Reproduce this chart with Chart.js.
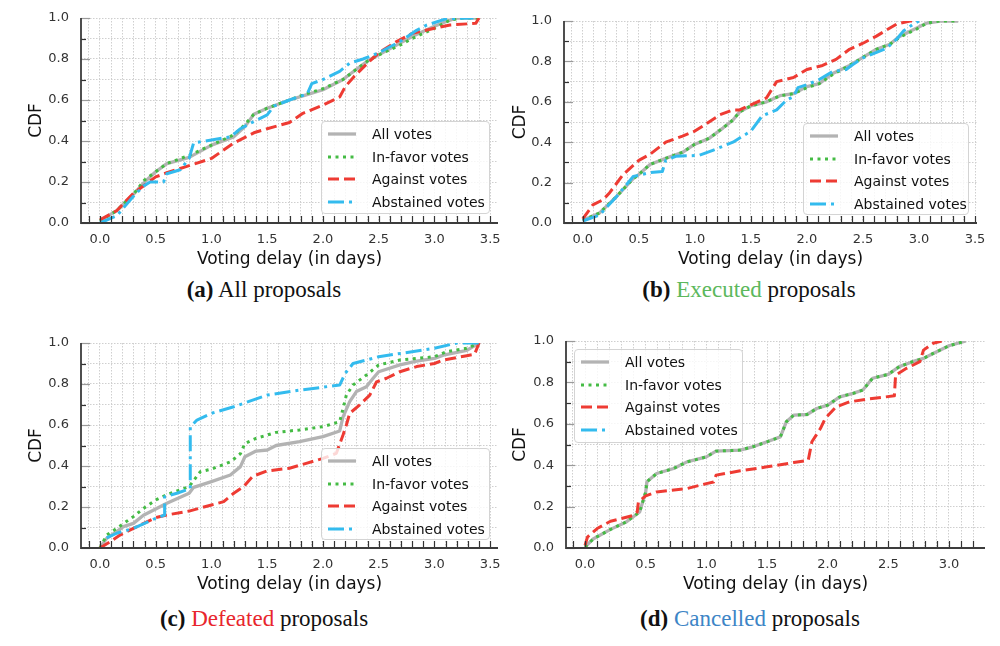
<!DOCTYPE html>
<html>
<head>
<meta charset="utf-8">
<script src="https://cdn.jsdelivr.net/npm/chart.js@4.4.0/dist/chart.umd.min.js"></script>
<style>
  body { margin: 0; background: #fff; }
  #page { position: relative; width: 1000px; height: 646px; overflow: hidden; font-family: "DejaVu Sans", sans-serif; }
  .panel { position: absolute; width: 500px; height: 270px; }
  .panel canvas { display: block; }
  .legend { position: absolute; box-sizing: border-box; border: 1px solid #d4d4d4; border-radius: 4px;
            background: rgba(255,255,255,0.8); padding-top: 1px; font-size: 14px; color: #111; }
  .legend .row { height: 22.5px; line-height: 22.5px; white-space: nowrap; display: flex; align-items: center; }
  .legend svg { margin-left: 6px; margin-right: 16px; flex: none; }
  .caption { position: absolute; width: 500px; text-align: center; font-family: "Liberation Serif", serif;
             font-size: 23px; line-height: 23px; color: #111; }
</style>
</head>
<body>
<div id="page">
  <div class="panel" style="left:0;top:0"><canvas id="ca" width="500" height="270"></canvas></div>
  <div class="panel" style="left:500px;top:0"><canvas id="cb" width="500" height="270"></canvas></div>
  <div class="panel" style="left:0;top:325px"><canvas id="cc" width="500" height="270"></canvas></div>
  <div class="panel" style="left:500px;top:325px"><canvas id="cd" width="500" height="270"></canvas></div>

  <div class="legend" id="la" style="left:321px;top:121px;width:169px;height:93px"></div>
  <div class="legend" id="lb" style="left:803px;top:123px;width:166px;height:92px"></div>
  <div class="legend" id="lc" style="left:321px;top:448px;width:169px;height:92px"></div>
  <div class="legend" id="ld" style="left:574px;top:349px;width:169px;height:94px"></div>

  <div class="caption" style="left:14px;top:278px"><b>(a)</b> All proposals</div>
  <div class="caption" style="left:499px;top:278px"><b>(b)</b> <span style="color:#5cb85c">Executed</span> proposals</div>
  <div class="caption" style="left:14px;top:607px"><b>(c)</b> <span style="color:#e8262d">Defeated</span> proposals</div>
  <div class="caption" style="left:500px;top:607px"><b>(d)</b> <span style="color:#3d85c6">Cancelled</span> proposals</div>
</div>

<script>
  // series names and look (same for all four panels)
  const seriesLabels = ['All votes', 'In-favor votes', 'Against votes', 'Abstained votes'];
  const seriesColors = ['#b3b3b3', '#44bb44', '#ee3b33', '#33bbee'];
  const seriesWidths = [3.3, 3, 3, 3];
  const seriesDashes = [[], [3, 4.5], [11, 5], [16, 5, 3, 5]];

  // CDF points [delay in days, cdf]

  // (a) all proposals
  const allAll = [[0,0.01],[0.15,0.06],[0.3,0.14],[0.4,0.2],[0.5,0.25],[0.6,0.29],[0.8,0.32],[1.0,0.38],[1.2,0.42],[1.3,0.47],[1.38,0.53],[1.5,0.56],[1.7,0.6],[1.85,0.625],[2.0,0.65],[2.18,0.70],[2.3,0.75],[2.4,0.79],[2.5,0.82],[2.7,0.88],[2.8,0.91],[3.0,0.96],[3.14,0.99],[3.2,1.0],[3.4,1.0]];
  const allFavor = [[0,0.01],[0.15,0.06],[0.3,0.14],[0.4,0.21],[0.5,0.25],[0.6,0.29],[0.8,0.33],[1.0,0.38],[1.2,0.43],[1.3,0.48],[1.38,0.53],[1.5,0.56],[1.7,0.6],[1.85,0.63],[2.0,0.655],[2.18,0.70],[2.3,0.75],[2.4,0.79],[2.5,0.82],[2.7,0.87],[2.8,0.9],[3.0,0.95],[3.14,0.99],[3.25,1.0],[3.4,1.0]];
  const allAgainst = [[0,0.015],[0.15,0.06],[0.3,0.145],[0.5,0.225],[0.6,0.245],[0.8,0.28],[1.0,0.315],[1.2,0.39],[1.38,0.44],[1.5,0.46],[1.7,0.49],[1.82,0.535],[2.0,0.575],[2.15,0.615],[2.2,0.665],[2.28,0.715],[2.4,0.78],[2.5,0.83],[2.66,0.885],[2.8,0.925],[3.0,0.95],[3.14,0.966],[3.37,0.974],[3.4,1.0]];
  const allAbstain = [[0,0.0],[0.15,0.035],[0.3,0.13],[0.39,0.18],[0.45,0.2],[0.57,0.2],[0.6,0.24],[0.72,0.26],[0.8,0.315],[0.84,0.39],[1.0,0.405],[1.17,0.42],[1.26,0.46],[1.38,0.495],[1.5,0.527],[1.56,0.57],[1.7,0.6],[1.86,0.63],[1.9,0.68],[2.0,0.70],[2.15,0.74],[2.24,0.78],[2.36,0.8],[2.5,0.83],[2.69,0.885],[2.84,0.94],[2.93,0.965],[3.11,0.997],[3.35,1.0]];

  // (b) executed proposals
  const exeAll = [[0,0.013],[0.15,0.05],[0.3,0.13],[0.45,0.22],[0.5,0.24],[0.6,0.29],[0.74,0.32],[0.89,0.35],[1.0,0.39],[1.13,0.42],[1.25,0.47],[1.34,0.51],[1.4,0.55],[1.5,0.58],[1.64,0.60],[1.76,0.63],[1.88,0.64],[2.0,0.675],[2.11,0.69],[2.23,0.74],[2.38,0.78],[2.5,0.82],[2.62,0.86],[2.74,0.885],[2.83,0.925],[2.98,0.965],[3.07,0.99],[3.19,1.0],[3.35,1.0]];
  const exeFavor = [[0,0.013],[0.15,0.05],[0.3,0.13],[0.45,0.22],[0.5,0.24],[0.6,0.29],[0.74,0.32],[0.89,0.35],[1.0,0.39],[1.13,0.42],[1.25,0.47],[1.34,0.51],[1.4,0.55],[1.5,0.58],[1.64,0.60],[1.76,0.63],[1.88,0.64],[2.0,0.67],[2.11,0.69],[2.23,0.735],[2.38,0.78],[2.5,0.82],[2.62,0.86],[2.74,0.885],[2.83,0.92],[2.98,0.96],[3.07,0.99],[3.19,1.0],[3.35,1.0]];
  const exeAgainst = [[0,0.02],[0.09,0.09],[0.18,0.115],[0.24,0.15],[0.36,0.24],[0.5,0.31],[0.6,0.34],[0.74,0.40],[0.89,0.43],[1.0,0.455],[1.1,0.49],[1.22,0.535],[1.34,0.56],[1.4,0.56],[1.5,0.585],[1.64,0.62],[1.73,0.70],[1.88,0.72],[2.0,0.76],[2.14,0.78],[2.26,0.81],[2.38,0.86],[2.5,0.89],[2.62,0.925],[2.8,0.985],[2.92,1.0],[3.0,1.0]];
  const exeAbstain = [[0,0.01],[0.15,0.04],[0.3,0.13],[0.45,0.23],[0.6,0.25],[0.71,0.255],[0.74,0.31],[0.83,0.33],[1.04,0.335],[1.16,0.36],[1.34,0.40],[1.5,0.455],[1.6,0.53],[1.73,0.56],[1.82,0.61],[1.88,0.625],[1.92,0.67],[2.0,0.685],[2.11,0.71],[2.23,0.75],[2.35,0.76],[2.41,0.785],[2.5,0.817],[2.71,0.865],[2.8,0.91],[2.86,0.95],[2.95,0.985],[3.0,1.0]];

  // (c) defeated proposals
  const defAll = [[0,0],[0.06,0.047],[0.15,0.08],[0.21,0.104],[0.3,0.12],[0.39,0.16],[0.5,0.19],[0.6,0.218],[0.69,0.24],[0.8,0.267],[0.84,0.296],[1.0,0.324],[1.17,0.356],[1.26,0.397],[1.3,0.445],[1.4,0.473],[1.5,0.478],[1.58,0.5],[1.79,0.519],[2.0,0.543],[2.15,0.571],[2.18,0.64],[2.24,0.714],[2.3,0.763],[2.39,0.787],[2.45,0.828],[2.5,0.86],[2.69,0.893],[2.84,0.912],[3.0,0.925],[3.08,0.941],[3.29,0.964],[3.4,1.0]];
  const defFavor = [[0,0],[0.06,0.063],[0.15,0.096],[0.3,0.153],[0.39,0.193],[0.5,0.234],[0.6,0.26],[0.8,0.3],[0.9,0.372],[1.0,0.385],[1.17,0.42],[1.26,0.46],[1.3,0.51],[1.4,0.535],[1.58,0.564],[1.79,0.576],[2.0,0.592],[2.15,0.616],[2.18,0.68],[2.21,0.746],[2.27,0.795],[2.39,0.844],[2.5,0.893],[2.69,0.917],[3.0,0.933],[3.11,0.958],[3.29,0.974],[3.4,1.0]];
  const defAgainst = [[0,0],[0.09,0.03],[0.18,0.063],[0.3,0.096],[0.5,0.148],[0.6,0.161],[0.8,0.18],[1.0,0.21],[1.11,0.226],[1.2,0.267],[1.29,0.3],[1.37,0.35],[1.5,0.376],[1.7,0.389],[1.85,0.413],[2.0,0.437],[2.12,0.462],[2.18,0.551],[2.21,0.6],[2.24,0.657],[2.33,0.698],[2.42,0.746],[2.48,0.81],[2.57,0.828],[2.69,0.86],[2.84,0.885],[3.0,0.9],[3.08,0.917],[3.29,0.938],[3.36,0.945],[3.4,1.0]];
  const defAbstain = [[0.06,0.049],[0.15,0.072],[0.3,0.096],[0.5,0.145],[0.58,0.161],[0.58,0.25],[0.69,0.267],[0.81,0.29],[0.81,0.59],[0.87,0.624],[1.0,0.657],[1.2,0.689],[1.5,0.746],[1.79,0.77],[2.15,0.795],[2.2,0.852],[2.27,0.9],[2.5,0.933],[3.0,0.974],[3.2,1.0],[3.4,1.0]];

  // (d) cancelled proposals (no abstained votes)
  const canAll = [[0,0.005],[0.07,0.045],[0.21,0.09],[0.34,0.126],[0.45,0.174],[0.5,0.27],[0.51,0.32],[0.59,0.36],[0.73,0.384],[0.84,0.416],[1.0,0.44],[1.08,0.468],[1.28,0.473],[1.39,0.49],[1.5,0.513],[1.61,0.537],[1.66,0.61],[1.72,0.642],[1.83,0.645],[1.91,0.674],[2.0,0.69],[2.1,0.73],[2.21,0.747],[2.29,0.763],[2.37,0.82],[2.5,0.839],[2.59,0.876],[2.7,0.9],[2.79,0.916],[2.87,0.94],[3.0,0.977],[3.14,1.0]];
  const canFavor = [[0,0.005],[0.07,0.045],[0.21,0.09],[0.34,0.126],[0.45,0.174],[0.5,0.27],[0.51,0.32],[0.59,0.36],[0.73,0.384],[0.84,0.416],[1.0,0.44],[1.08,0.468],[1.28,0.473],[1.39,0.49],[1.5,0.513],[1.61,0.537],[1.66,0.61],[1.72,0.642],[1.83,0.645],[1.91,0.674],[2.0,0.69],[2.1,0.73],[2.21,0.747],[2.29,0.763],[2.37,0.82],[2.5,0.839],[2.59,0.876],[2.7,0.9],[2.79,0.916],[2.87,0.94],[3.0,0.977],[3.14,1.0]];
  const canAgainst = [[0,0.013],[0.02,0.053],[0.1,0.094],[0.21,0.129],[0.4,0.158],[0.43,0.174],[0.44,0.223],[0.5,0.252],[0.59,0.271],[0.84,0.287],[1.0,0.311],[1.06,0.319],[1.08,0.352],[1.28,0.373],[1.5,0.392],[1.72,0.413],[1.84,0.424],[1.87,0.513],[1.94,0.577],[1.98,0.626],[2.07,0.682],[2.18,0.706],[2.32,0.719],[2.55,0.735],[2.56,0.835],[2.65,0.868],[2.76,0.9],[2.79,0.956],[2.87,0.989],[2.94,1.0]];
  const canAbstain = [];

  const FONT = 'DejaVu Sans';

  // inward tick marks + left/bottom spines, matplotlib style
  const axisMarks = {
    id: 'axisMarks',
    afterDatasetsDraw(chart) {
      const { ctx, chartArea: a, scales: { x, y } } = chart;
      ctx.save();
      ctx.lineCap = 'butt';
      ctx.lineWidth = 1.2;
      ctx.strokeStyle = '#333';
      x.ticks.forEach(t => {
        const px = Math.round(x.getPixelForValue(t.value)) + 0.5;
        ctx.beginPath(); ctx.moveTo(px, a.bottom); ctx.lineTo(px, a.bottom - 7); ctx.stroke();
      });
      y.ticks.forEach(t => {
        const major = Math.round(t.value * 10) % 2 === 0;
        const py = Math.round(y.getPixelForValue(t.value)) + 0.5;
        ctx.strokeStyle = major ? '#9a9a9a' : '#333';
        ctx.beginPath(); ctx.moveTo(a.left, py); ctx.lineTo(a.left + (major ? 9 : 5), py); ctx.stroke();
      });
      ctx.strokeStyle = '#3c3c3c';
      ctx.lineWidth = 1.8;
      ctx.beginPath();
      ctx.moveTo(a.left, a.top); ctx.lineTo(a.left, a.bottom); ctx.lineTo(a.right, a.bottom);
      ctx.stroke();
      ctx.restore();
    }
  };

  function makeChart(id, series, box) {
    const xMax = Math.max(...series.flat().map(p => p[0]));
    const pad = xMax * 0.05;
    return new Chart(document.getElementById(id), {
      type: 'line',
      data: {
        datasets: series.map((pts, i) => ({
          label: seriesLabels[i],
          data: pts.map(p => ({ x: p[0], y: p[1] })),
          borderColor: seriesColors[i],
          borderWidth: seriesWidths[i],
          borderDash: seriesDashes[i],
          borderCapStyle: 'butt',
          borderJoinStyle: 'round',
          pointRadius: 0,
          tension: 0,
          fill: false,
          order: series.length - i
        }))
      },
      options: {
        responsive: false,
        animation: false,
        events: [],
        layout: { padding: { left: 0, top: box.top, right: 500 - box.right, bottom: 0 } },
        plugins: { legend: { display: false }, tooltip: { enabled: false } },
        scales: {
          x: {
            type: 'linear',
            min: -pad,
            max: xMax + pad,
            afterFit: s => { s.height = 270 - box.bottom; s.paddingLeft = 0; s.paddingRight = 0; },
            ticks: {
              stepSize: 0.1, includeBounds: false, autoSkip: false, maxRotation: 0, minRotation: 0,
              padding: 9, color: '#333', font: { family: FONT, size: 13 },
              callback: v => {
                const t = Math.round(v * 10);
                return (t % 5 === 0 && t >= 0) ? (t / 10).toFixed(1) : '';
              }
            },
            grid: { color: '#cfcfcf', lineWidth: 1, drawTicks: false },
            border: { display: false, dash: [1.5, 1.5] },
            title: { display: true, text: 'Voting delay (in days)', color: '#111',
                     font: { family: FONT, size: 17 }, padding: { top: 0, bottom: 0 } }
          },
          y: {
            min: 0,
            max: 1,
            afterFit: s => { s.width = box.left; s.paddingTop = 0; s.paddingBottom = 0; },
            ticks: {
              stepSize: 0.1, autoSkip: false, padding: 12, color: '#333', font: { family: FONT, size: 13 },
              callback: v => {
                const t = Math.round(v * 10);
                return t % 2 === 0 ? (t / 10).toFixed(1) : '';
              }
            },
            grid: { color: '#cfcfcf', lineWidth: 1, drawTicks: false },
            border: { display: false, dash: [1.5, 1.5] },
            title: { display: true, text: 'CDF', color: '#111',
                     font: { family: FONT, size: 17 }, padding: { top: box.titlePad, bottom: 0 } }
          }
        }
      },
      plugins: [axisMarks]
    });
  }

  function makeLegend(id) {
    const el = document.getElementById(id);
    seriesLabels.forEach((label, i) => {
      const row = document.createElement('div');
      row.className = 'row';
      const dash = seriesDashes[i].length ? seriesDashes[i].join(' ') : 'none';
      row.innerHTML =
        `<svg width="28" height="10"><line x1="0" y1="5" x2="28" y2="5" stroke="${seriesColors[i]}"
          stroke-width="${seriesWidths[i]}" stroke-dasharray="${dash}"/></svg><span>${label}</span>`;
      el.appendChild(row);
    });
  }

  makeChart('ca', [allAll, allFavor, allAgainst, allAbstain], { left: 81, top: 18, right: 498, bottom: 223, titlePad: 26 });
  makeChart('cb', [exeAll, exeFavor, exeAgainst, exeAbstain], { left: 64, top: 21, right: 477, bottom: 223, titlePad: 10 });
  makeChart('cc', [defAll, defFavor, defAgainst, defAbstain], { left: 81, top: 18, right: 498, bottom: 223, titlePad: 26 });
  makeChart('cd', [canAll, canFavor, canAgainst, canAbstain], { left: 66, top: 16, right: 485, bottom: 223, titlePad: 10 });

  ['la', 'lb', 'lc', 'ld'].forEach(makeLegend);
</script>
</body>
</html>
